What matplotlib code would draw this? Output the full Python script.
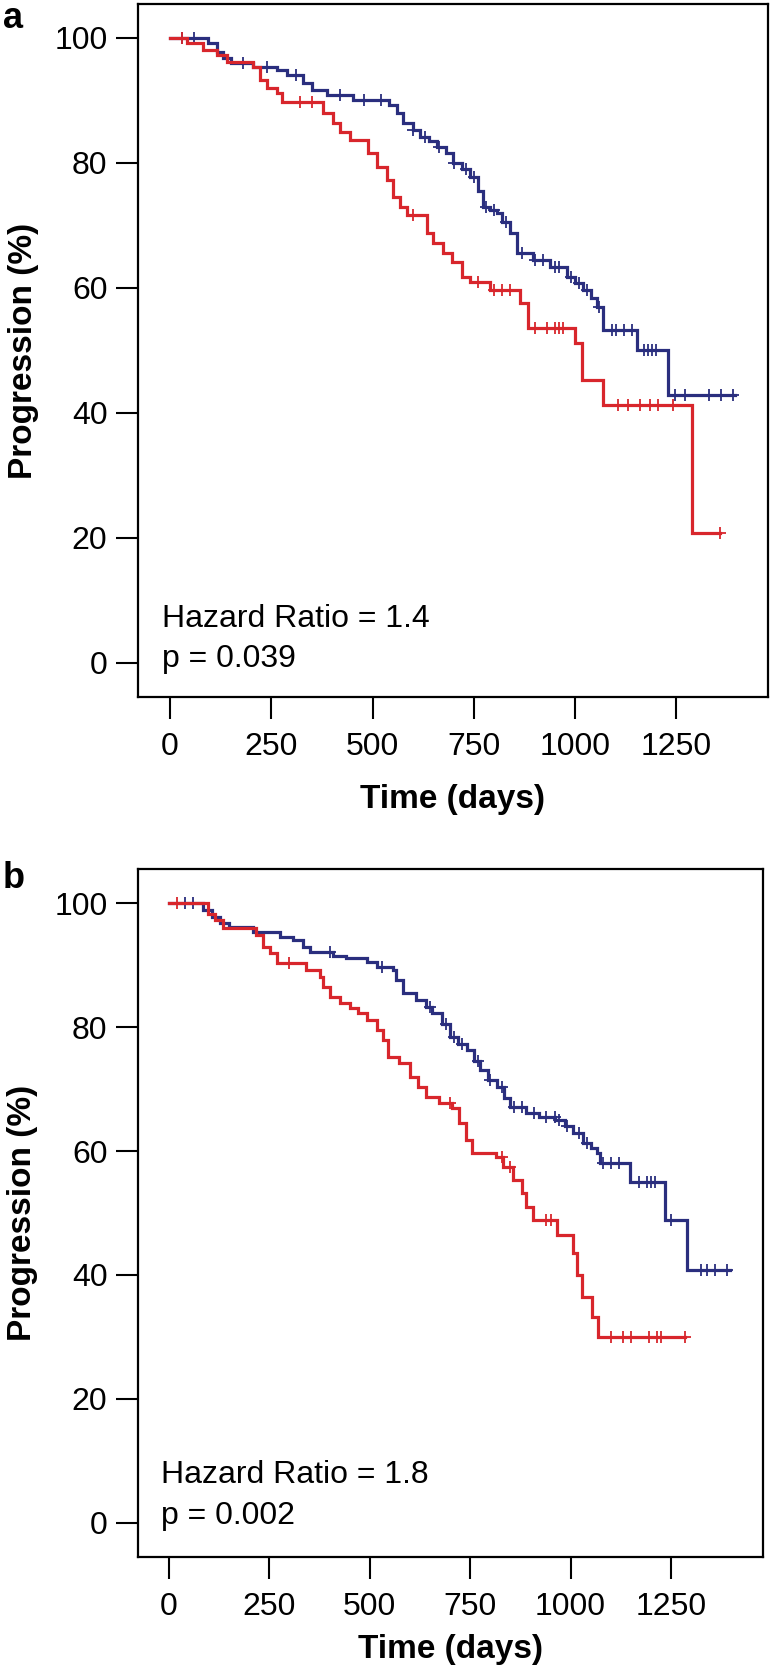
import numpy as np
import matplotlib
matplotlib.use("Agg")
import matplotlib.pyplot as plt

plt.rcParams['font.family'] = ['Liberation Sans', 'DejaVu Sans']

# ---------------- data ----------------
# Panel a
a_blue_t = [0, 95, 115, 130, 150, 206, 263, 290, 329, 350, 387, 452, 540, 560, 576, 600, 617, 640,
            658, 680, 699, 720, 740, 760, 773, 790, 806, 820, 839, 856, 896, 938, 979, 1000, 1020,
            1040, 1053, 1069, 1152, 1229]
a_blue_s = [100, 99.2, 97.8, 96.8, 96.0, 95.4, 94.9, 94.1, 92.8, 91.7, 90.9, 90.1, 89.2, 88.0, 86.3,
            85.3, 84.2, 83.5, 82.6, 81.5, 80.0, 79.0, 77.8, 75.5, 73.0, 72.5, 72.0, 70.5, 68.8, 65.6,
            64.5, 63.4, 61.8, 60.8, 59.7, 58.3, 57.0, 53.3, 50.1, 42.9]
a_blue_end = 1394
a_blue_cens = [30, 60, 180, 240, 310, 420, 480, 520, 600, 630, 665, 700, 730, 750, 780, 800, 830, 870,
               900, 920, 950, 960, 990, 1010, 1030, 1060, 1090, 1100, 1120, 1140, 1170, 1180, 1190,
               1200, 1246, 1272, 1330, 1359, 1390]

a_red_t = [0, 41, 82, 115, 140, 206, 222, 239, 263, 276, 378, 403, 420, 444, 489, 510, 535, 551, 568,
           584, 634, 650, 675, 695, 720, 740, 790, 864, 884, 1000, 1016, 1069, 1288]
a_red_s = [100, 99.2, 98.1, 97.3, 96.2, 95.4, 93.3, 92.0, 91.2, 89.8, 88.0, 86.4, 85.0, 83.7, 81.6,
           79.4, 77.3, 74.6, 73.0, 71.7, 68.8, 67.2, 65.5, 64.2, 61.8, 61.0, 59.7, 57.5, 53.5, 51.2,
           45.3, 41.3, 20.8]
a_red_end = 1357
a_red_cens = [30, 320, 350, 600, 760, 800, 820, 840, 900, 930, 950, 960, 970, 1106, 1130, 1160,
              1184, 1205, 1242, 1357]

# Panel b
b_blue_t = [0, 85, 106, 127, 150, 209, 276, 309, 334, 351, 409, 442, 492, 517, 558, 566, 583, 615,
            640, 656, 680, 700, 720, 741, 760, 774, 795, 816, 835, 849, 890, 921, 962, 985, 1006,
            1031, 1050, 1065, 1073, 1148, 1235, 1290]
b_blue_s = [100, 98.9, 97.8, 96.8, 96.1, 95.3, 94.5, 94.0, 92.9, 92.1, 91.5, 91.1, 90.5, 89.7, 89.2,
            87.6, 85.5, 84.4, 83.3, 82.3, 80.5, 78.4, 77.3, 76.3, 74.5, 73.0, 71.5, 70.3, 68.5, 67.1,
            66.2, 65.5, 65.0, 64.0, 62.9, 61.3, 60.5, 59.7, 58.0, 55.0, 48.9, 40.8]
b_blue_end = 1397
b_blue_cens = [40, 60, 400, 530, 650, 690, 710, 730, 770, 800, 830, 860, 880, 910, 940, 960, 970,
               990, 1020, 1040, 1080, 1100, 1120, 1170, 1190, 1200, 1210, 1250, 1325, 1340, 1360, 1390]

b_red_t = [0, 97, 115, 135, 218, 234, 251, 268, 342, 375, 384, 400, 425, 450, 470, 492, 517, 533, 545,
           573, 600, 620, 640, 672, 705, 722, 739, 755, 814, 832, 857, 879, 888, 906, 966, 1006, 1016,
           1028, 1053, 1068]
b_red_s = [100, 98.2, 97.3, 96.0, 94.8, 92.9, 91.9, 90.3, 89.2, 88.1, 86.5, 84.8, 83.9, 83.0, 82.3,
           81.1, 79.5, 77.9, 75.2, 74.2, 72.0, 70.3, 68.7, 67.7, 66.9, 64.5, 61.8, 59.7, 59.0, 57.4,
           55.3, 53.2, 51.0, 48.9, 46.5, 43.5, 40.0, 36.5, 33.2, 30.0]
b_red_end = 1285
b_red_cens = [20, 300, 700, 830, 850, 940, 950, 1100, 1130, 1150, 1195, 1215, 1225, 1285]

panel_labels = ["a", "b"]
hr_texts = ["Hazard Ratio = 1.4", "Hazard Ratio = 1.8"]
p_texts = ["p = 0.039", "p = 0.002"]
x_ticks = [0, 250, 500, 750, 1000, 1250]
y_ticks = [0, 20, 40, 60, 80, 100]

BLUE = "#2A2E7E"
RED = "#D8262C"

W, H = 773, 1678
fig = plt.figure(figsize=(W / 100, H / 100), dpi=100)

# axes rectangles in pixel coordinates (left, top, right, bottom)
boxes = [(138, 4, 768, 697), (138, 869, 763, 1557)]
xlims = [(-79, 1476), (-77, 1479)]
ylims = [(-5.44, 105.4), (-5.5, 105.5)]
label_y = [28, 888]
xlabel_base = [808, 1658]

curves = [
    [(a_blue_t, a_blue_s, a_blue_end, a_blue_cens, BLUE), (a_red_t, a_red_s, a_red_end, a_red_cens, RED)],
    [(b_blue_t, b_blue_s, b_blue_end, b_blue_cens, BLUE), (b_red_t, b_red_s, b_red_end, b_red_cens, RED)],
]
txt_y = [(5.8, -0.6), (6.5, -0.2)]

for i in range(2):
    l, t, r, b = boxes[i]
    ax = fig.add_axes([l / W, 1 - b / H, (r - l) / W, (b - t) / H])
    for (tt, ss, end, cens, col) in curves[i]:
        tt = np.asarray(tt, float)
        ss = np.asarray(ss, float)
        xs = np.append(tt, end)
        ys = np.append(ss, ss[-1])
        ax.step(xs, ys, where='post', color=col, lw=2.3, solid_joinstyle='miter')
        cens = np.asarray(cens, float)
        idx = np.searchsorted(tt, cens, side='right') - 1
        ax.plot(cens, ss[idx], linestyle='none', marker='+', color=col, ms=8, mew=1.3)
    ax.set_xlim(*xlims[i])
    ax.set_ylim(*ylims[i])
    ax.set_xticks(x_ticks)
    ax.set_yticks(y_ticks)
    ax.tick_params(axis='both', direction='out', length=16, width=1.5, labelsize=23, color='black')
    ax.tick_params(axis='y', pad=6)
    ax.tick_params(axis='x', pad=9)
    for sp in ax.spines.values():
        sp.set_linewidth(1.6)
        sp.set_color('black')
    ax.set_xlabel("Time (days)", fontsize=24, fontweight='bold')
    ax.xaxis.set_label_coords(0.5, -(xlabel_base[i] - b) / (b - t))
    ax.xaxis.label.set_va('baseline')
    ax.set_ylabel("Progression (%)", fontsize=24, fontweight='bold')
    ax.yaxis.set_label_coords(-(138 - 23) / (r - l), 0.5)
    ax.yaxis.label.set_va('center')
    ax.text(-20, txt_y[i][0], hr_texts[i], fontsize=23, va='baseline', ha='left')
    ax.text(-20, txt_y[i][1], p_texts[i], fontsize=23, va='baseline', ha='left')
    fig.text(3 / W, 1 - label_y[i] / H, panel_labels[i], fontsize=26, fontweight='bold',
             va='baseline', ha='left')

fig.savefig("out.png", dpi=100)
